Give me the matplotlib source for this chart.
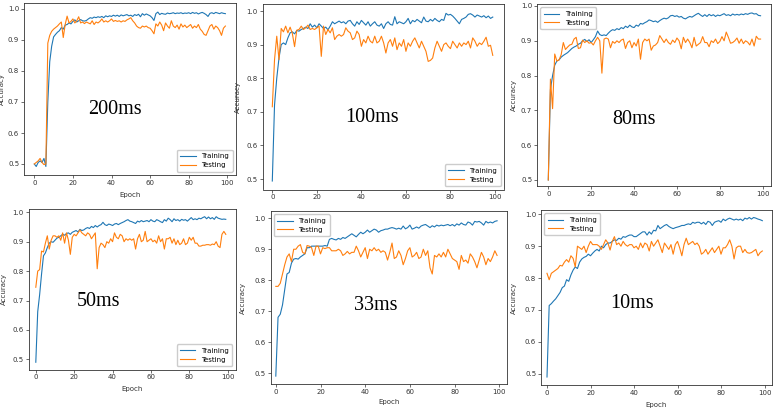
import numpy as np
import matplotlib
matplotlib.use("Agg")
import matplotlib.pyplot as plt

epochs = np.arange(100)

# 200ms
train_200 = [0.500, 0.492, 0.505, 0.510, 0.505, 0.518, 0.492, 0.700, 0.830, 0.880,
             0.910, 0.918, 0.925, 0.930, 0.940, 0.935, 0.948, 0.950, 0.955, 0.952,
             0.960, 0.965, 0.958, 0.962, 0.966, 0.962, 0.961, 0.963, 0.968, 0.972,
             0.970, 0.974, 0.972, 0.975, 0.973, 0.976, 0.972, 0.978, 0.975, 0.978,
             0.976, 0.980, 0.977, 0.980, 0.976, 0.981, 0.978, 0.980, 0.982, 0.978,
             0.980, 0.976, 0.982, 0.979, 0.983, 0.975, 0.985, 0.980, 0.984, 0.981,
             0.978, 0.972, 0.963, 0.985, 0.990, 0.982, 0.986, 0.984, 0.983, 0.987,
             0.985, 0.986, 0.988, 0.985, 0.987, 0.986, 0.988, 0.985, 0.987, 0.986,
             0.988, 0.985, 0.989, 0.986, 0.988, 0.984, 0.987, 0.989, 0.986, 0.982,
             0.976, 0.986, 0.988, 0.985, 0.989, 0.987, 0.985, 0.988, 0.986, 0.985]
test_200 = [0.500, 0.505, 0.510, 0.518, 0.505, 0.498, 0.500, 0.890, 0.915, 0.928,
            0.935, 0.940, 0.945, 0.952, 0.958, 0.908, 0.950, 0.977, 0.955, 0.960,
            0.968, 0.955, 0.962, 0.975, 0.955, 0.958, 0.953, 0.958, 0.955, 0.952,
            0.962, 0.950, 0.958, 0.955, 0.960, 0.968, 0.958, 0.962, 0.958, 0.962,
            0.968, 0.960, 0.963, 0.960, 0.962, 0.958, 0.962, 0.960, 0.965, 0.968,
            0.972, 0.962, 0.955, 0.945, 0.940, 0.938, 0.945, 0.942, 0.945, 0.940,
            0.938, 0.930, 0.920, 0.952, 0.945, 0.958, 0.948, 0.930, 0.955, 0.945,
            0.938, 0.962, 0.945, 0.940, 0.948, 0.935, 0.952, 0.942, 0.948, 0.940,
            0.945, 0.950, 0.938, 0.945, 0.940, 0.950, 0.935, 0.928, 0.918, 0.915,
            0.930, 0.945, 0.950, 0.935, 0.945, 0.940, 0.930, 0.915, 0.938, 0.945]

# 100ms
train_100 = [0.494, 0.720, 0.800, 0.860, 0.900, 0.905, 0.900, 0.920, 0.935, 0.938,
             0.932, 0.942, 0.940, 0.945, 0.948, 0.952, 0.948, 0.962, 0.952, 0.958,
             0.950, 0.962, 0.955, 0.948, 0.952, 0.944, 0.955, 0.968, 0.962, 0.966,
             0.970, 0.965, 0.968, 0.962, 0.970, 0.972, 0.962, 0.955, 0.968, 0.960,
             0.972, 0.965, 0.958, 0.968, 0.955, 0.962, 0.968, 0.958, 0.955, 0.962,
             0.948, 0.962, 0.968, 0.960, 0.958, 0.983, 0.962, 0.968, 0.965, 0.962,
             0.968, 0.978, 0.962, 0.972, 0.968, 0.975, 0.970, 0.965, 0.982, 0.970,
             0.968, 0.975, 0.970, 0.978, 0.972, 0.968, 0.975, 0.972, 0.993, 0.988,
             0.990, 0.985, 0.978, 0.970, 0.962, 0.975, 0.978, 0.982, 0.990, 0.992,
             0.988, 0.982, 0.988, 0.985, 0.982, 0.986, 0.980, 0.985, 0.978, 0.982]
test_100 = [0.715, 0.855, 0.925, 0.855, 0.948, 0.938, 0.955, 0.935, 0.952, 0.933,
            0.894, 0.943, 0.945, 0.955, 0.945, 0.950, 0.958, 0.945, 0.948, 0.945,
            0.950, 0.955, 0.865, 0.955, 0.930, 0.945, 0.935, 0.950, 0.915, 0.925,
            0.930, 0.925, 0.930, 0.950, 0.940, 0.935, 0.915, 0.920, 0.940, 0.930,
            0.895, 0.915, 0.905, 0.925, 0.910, 0.905, 0.925, 0.905, 0.910, 0.925,
            0.905, 0.875, 0.905, 0.915, 0.895, 0.920, 0.885, 0.905, 0.895, 0.915,
            0.880, 0.905, 0.895, 0.910, 0.920, 0.905, 0.890, 0.910, 0.895, 0.880,
            0.850, 0.853, 0.860, 0.890, 0.910, 0.895, 0.880, 0.900, 0.905, 0.895,
            0.888, 0.910, 0.900, 0.890, 0.905, 0.895, 0.905, 0.900, 0.910, 0.890,
            0.920, 0.910, 0.895, 0.905, 0.900, 0.910, 0.922, 0.895, 0.898, 0.868]

# 80ms
train_80 = [0.500, 0.760, 0.800, 0.830, 0.842, 0.845, 0.853, 0.858, 0.862, 0.866,
            0.872, 0.878, 0.882, 0.885, 0.890, 0.893, 0.900, 0.904, 0.898, 0.903,
            0.895, 0.903, 0.912, 0.928, 0.918, 0.915, 0.917, 0.915, 0.922, 0.928,
            0.932, 0.930, 0.935, 0.932, 0.938, 0.935, 0.942, 0.938, 0.945, 0.940,
            0.938, 0.945, 0.942, 0.950, 0.948, 0.952, 0.955, 0.960, 0.958, 0.955,
            0.957, 0.953, 0.958, 0.962, 0.965, 0.963, 0.966, 0.972, 0.973, 0.970,
            0.972, 0.968, 0.970, 0.965, 0.963, 0.967, 0.970, 0.968, 0.972, 0.976,
            0.979, 0.974, 0.970, 0.975, 0.970, 0.976, 0.972, 0.975, 0.970, 0.974,
            0.972, 0.975, 0.978, 0.973, 0.975, 0.972, 0.977, 0.974, 0.976, 0.974,
            0.977, 0.975, 0.978, 0.976, 0.979, 0.980, 0.977, 0.978, 0.973, 0.972]
test_80 = [0.500, 0.790, 0.705, 0.862, 0.842, 0.845, 0.860, 0.895, 0.875, 0.882,
           0.888, 0.890, 0.905, 0.910, 0.878, 0.880, 0.902, 0.895, 0.900, 0.893,
           0.895, 0.888, 0.900, 0.910, 0.900, 0.807, 0.905, 0.908, 0.905, 0.880,
           0.898, 0.893, 0.900, 0.895, 0.902, 0.905, 0.878, 0.895, 0.900, 0.880,
           0.895, 0.885, 0.905, 0.847, 0.895, 0.905, 0.900, 0.905, 0.873, 0.885,
           0.888, 0.895, 0.915, 0.905, 0.895, 0.905, 0.895, 0.890, 0.902, 0.895,
           0.908, 0.900, 0.877, 0.910, 0.895, 0.905, 0.895, 0.880, 0.910, 0.885,
           0.890, 0.895, 0.912, 0.895, 0.895, 0.883, 0.900, 0.895, 0.905, 0.892,
           0.898, 0.912, 0.900, 0.925, 0.910, 0.893, 0.895, 0.900, 0.908, 0.893,
           0.905, 0.892, 0.900, 0.896, 0.888, 0.905, 0.885, 0.913, 0.905, 0.905]

# 50ms
train_50 = [0.490, 0.662, 0.720, 0.790, 0.852, 0.862, 0.880, 0.895, 0.900, 0.898,
            0.905, 0.912, 0.915, 0.920, 0.925, 0.922, 0.928, 0.930, 0.925, 0.932,
            0.935, 0.938, 0.933, 0.942, 0.938, 0.940, 0.945, 0.948, 0.945, 0.952,
            0.948, 0.955, 0.950, 0.955, 0.958, 0.966, 0.958, 0.955, 0.960, 0.958,
            0.955, 0.960, 0.962, 0.958, 0.962, 0.965, 0.968, 0.972, 0.975, 0.970,
            0.968, 0.965, 0.962, 0.970, 0.967, 0.972, 0.968, 0.970, 0.972, 0.968,
            0.975, 0.970, 0.968, 0.975, 0.972, 0.968, 0.965, 0.975, 0.970, 0.980,
            0.975, 0.968, 0.978, 0.972, 0.975, 0.970, 0.976, 0.973, 0.975, 0.970,
            0.976, 0.982, 0.975, 0.978, 0.975, 0.980, 0.978, 0.982, 0.985, 0.978,
            0.984, 0.978, 0.982, 0.976, 0.985, 0.980, 0.978, 0.976, 0.977, 0.976]
test_50 = [0.745, 0.800, 0.805, 0.868, 0.865, 0.895, 0.920, 0.875, 0.905, 0.920,
           0.920, 0.915, 0.920, 0.905, 0.930, 0.895, 0.930, 0.905, 0.857, 0.915,
           0.925, 0.920, 0.930, 0.940, 0.930, 0.925, 0.920, 0.930, 0.925, 0.910,
           0.920, 0.930, 0.808, 0.880, 0.895, 0.890, 0.880, 0.900, 0.895, 0.910,
           0.900, 0.930, 0.915, 0.910, 0.925, 0.920, 0.900, 0.910, 0.905, 0.910,
           0.905, 0.910, 0.875, 0.910, 0.925, 0.900, 0.905, 0.935, 0.900, 0.905,
           0.910, 0.900, 0.905, 0.895, 0.920, 0.900, 0.910, 0.875, 0.910, 0.910,
           0.915, 0.895, 0.910, 0.890, 0.905, 0.890, 0.895, 0.910, 0.890, 0.895,
           0.915, 0.905, 0.915, 0.895, 0.895, 0.885, 0.885, 0.888, 0.888, 0.890,
           0.890, 0.888, 0.892, 0.890, 0.900, 0.885, 0.880, 0.925, 0.935, 0.925]

# 33ms
train_33 = [0.490, 0.680, 0.690, 0.720, 0.770, 0.820, 0.825, 0.855, 0.868, 0.870,
            0.868, 0.875, 0.880, 0.885, 0.905, 0.905, 0.910, 0.910, 0.910, 0.910,
            0.910, 0.910, 0.912, 0.910, 0.932, 0.935, 0.932, 0.930, 0.935, 0.932,
            0.938, 0.935, 0.940, 0.945, 0.950, 0.945, 0.940, 0.948, 0.955, 0.950,
            0.955, 0.962, 0.955, 0.960, 0.965, 0.962, 0.955, 0.960, 0.962, 0.965,
            0.965, 0.968, 0.970, 0.968, 0.965, 0.968, 0.965, 0.975, 0.966, 0.970,
            0.978, 0.965, 0.968, 0.972, 0.968, 0.975, 0.978, 0.980, 0.975, 0.970,
            0.976, 0.972, 0.978, 0.975, 0.978, 0.976, 0.978, 0.980, 0.976, 0.980,
            0.975, 0.982, 0.978, 0.985, 0.980, 0.978, 0.988, 0.985, 0.978, 0.990,
            0.988, 0.990, 0.985, 0.978, 0.990, 0.985, 0.988, 0.985, 0.990, 0.992]
test_33 = [0.780, 0.780, 0.790, 0.820, 0.850, 0.875, 0.885, 0.860, 0.900, 0.900,
           0.910, 0.915, 0.890, 0.885, 0.912, 0.910, 0.905, 0.880, 0.910, 0.910,
           0.885, 0.905, 0.902, 0.905, 0.905, 0.895, 0.895, 0.895, 0.900, 0.895,
           0.880, 0.885, 0.893, 0.885, 0.890, 0.890, 0.910, 0.895, 0.875, 0.890,
           0.905, 0.870, 0.900, 0.895, 0.905, 0.895, 0.900, 0.890, 0.895, 0.890,
           0.865, 0.890, 0.920, 0.870, 0.875, 0.895, 0.880, 0.850, 0.870, 0.895,
           0.905, 0.875, 0.880, 0.890, 0.870, 0.875, 0.900, 0.880, 0.895, 0.840,
           0.820, 0.880, 0.875, 0.885, 0.875, 0.890, 0.875, 0.900, 0.885, 0.870,
           0.865, 0.860, 0.835, 0.880, 0.860, 0.865, 0.855, 0.885, 0.875, 0.860,
           0.840, 0.865, 0.890, 0.875, 0.850, 0.870, 0.860, 0.875, 0.895, 0.880]

# 10ms
train_10 = [0.490, 0.714, 0.720, 0.728, 0.735, 0.745, 0.755, 0.770, 0.775, 0.795,
            0.790, 0.810, 0.825, 0.835, 0.830, 0.850, 0.860, 0.865, 0.868, 0.875,
            0.870, 0.878, 0.885, 0.890, 0.885, 0.900, 0.895, 0.905, 0.910, 0.910,
            0.915, 0.920, 0.918, 0.925, 0.922, 0.930, 0.928, 0.932, 0.935, 0.935,
            0.930, 0.930, 0.935, 0.940, 0.945, 0.945, 0.935, 0.945, 0.938, 0.950,
            0.948, 0.965, 0.955, 0.960, 0.965, 0.968, 0.962, 0.958, 0.955, 0.958,
            0.960, 0.962, 0.965, 0.965, 0.968, 0.970, 0.968, 0.975, 0.972, 0.975,
            0.975, 0.970, 0.975, 0.968, 0.978, 0.975, 0.965, 0.975, 0.978, 0.980,
            0.975, 0.985, 0.980, 0.985, 0.988, 0.985, 0.982, 0.985, 0.982, 0.985,
            0.980, 0.988, 0.985, 0.990, 0.985, 0.990, 0.988, 0.985, 0.983, 0.980]
test_10 = [0.815, 0.795, 0.815, 0.820, 0.825, 0.830, 0.840, 0.838, 0.850, 0.858,
           0.850, 0.870, 0.862, 0.835, 0.900, 0.895, 0.890, 0.900, 0.880, 0.900,
           0.915, 0.905, 0.905, 0.905, 0.900, 0.890, 0.905, 0.920, 0.910, 0.888,
           0.915, 0.930, 0.905, 0.910, 0.900, 0.915, 0.905, 0.900, 0.905, 0.905,
           0.895, 0.900, 0.890, 0.910, 0.895, 0.910, 0.905, 0.885, 0.915, 0.900,
           0.910, 0.920, 0.900, 0.880, 0.910, 0.900, 0.890, 0.905, 0.875, 0.905,
           0.915, 0.895, 0.870, 0.905, 0.925, 0.905, 0.910, 0.915, 0.905, 0.910,
           0.900, 0.875, 0.880, 0.890, 0.875, 0.885, 0.895, 0.880, 0.890, 0.900,
           0.875, 0.895, 0.895, 0.905, 0.920, 0.900, 0.860, 0.895, 0.900, 0.900,
           0.880, 0.890, 0.880, 0.878, 0.880, 0.885, 0.890, 0.870, 0.880, 0.885]

labels = ["200ms", "100ms", "80ms", "50ms", "33ms", "10ms"]
train_sets = [train_200, train_100, train_80, train_50, train_33, train_10]
test_sets = [test_200, test_100, test_80, test_50, test_33, test_10]

W, H = 780, 409
fig = plt.figure(figsize=(W / 100, H / 100), dpi=100)

# each panel is its own screenshot: box in pixels (left, top, right, bottom),
# pixel of x=0 / x=100 ticks, pixel of y=1.0 / y=0.5 ticks
panels = [
    dict(box=(24, 3, 236, 175), xt=(34.3, 227.3), yt=(9, 164), legend="lower right",
         ylab_x=5, xlab_y=192, text=(115, 109)),
    dict(box=(262.5, 4, 504, 189.5), xt=(272.3, 495), yt=(11, 179), legend="lower right",
         ylab_x=241, xlab_y=None, text=(372, 117)),
    dict(box=(537, 4, 771, 186), xt=(548.3, 762.7), yt=(6, 180), legend="upper left",
         ylab_x=517, xlab_y=None, text=(634, 119)),
    dict(box=(28.5, 209, 235.7, 369.5), xt=(35.8, 227.7), yt=(212.3, 359.3), legend="lower right",
         ylab_x=7, xlab_y=386, text=(99, 302)),
    dict(box=(270.5, 211, 507.3, 384), xt=(275.8, 499.3), yt=(218.3, 373), legend="upper left",
         ylab_x=246, xlab_y=399, text=(376, 305)),
    dict(box=(541, 210, 771.7, 385), xt=(547, 764.5), yt=(214.3, 373.8), legend="upper left",
         ylab_x=517, xlab_y=402, text=(632, 303)),
]

fs = 5
for p, lab, tr, te in zip(panels, labels, train_sets, test_sets):
    l, t, r, b = p["box"]
    ax = fig.add_axes([l / W, 1 - b / H, (r - l) / W, (b - t) / H])
    ax.plot(epochs, tr, color="#1f77b4", lw=0.8, label="Training")
    ax.plot(epochs, te, color="#ff7f0e", lw=0.8, label="Testing")

    x0, x100 = p["xt"]
    ppx = (x100 - x0) / 100
    ax.set_xlim((l - x0) / ppx, (r - x0) / ppx)
    y1, y05 = p["yt"]
    ppy = (y05 - y1) / 0.5
    ax.set_ylim(0.5 - (b - y05) / ppy, 1.0 + (y1 - t) / ppy)
    ax.set_xticks([0, 20, 40, 60, 80, 100])
    ax.set_yticks([0.5, 0.6, 0.7, 0.8, 0.9, 1.0])
    ax.tick_params(labelsize=fs, length=2, width=0.5, pad=1.5, colors="#333333")
    for s in ax.spines.values():
        s.set_linewidth(0.6)
        s.set_color("#333333")

    ax.set_ylabel("Accuracy", fontsize=fs, color="#333333")
    ax.yaxis.set_label_coords((p["ylab_x"] - l) / (r - l), 0.5)
    if p["xlab_y"] is not None:
        ax.set_xlabel("Epoch", fontsize=fs, color="#333333")
        ax.xaxis.set_label_coords(0.5, (b - p["xlab_y"]) / (b - t))

    ax.legend(loc=p["legend"], fontsize=fs, handlelength=2.2, borderpad=0.5,
              labelspacing=0.4, framealpha=1, edgecolor="#cccccc", fancybox=True)

    tx, ty = p["text"]
    fig.text(tx / W, 1 - ty / H, lab, fontsize=14.5, family="Liberation Serif",
             ha="center", va="center")

fig.savefig("out.png", dpi=100)
